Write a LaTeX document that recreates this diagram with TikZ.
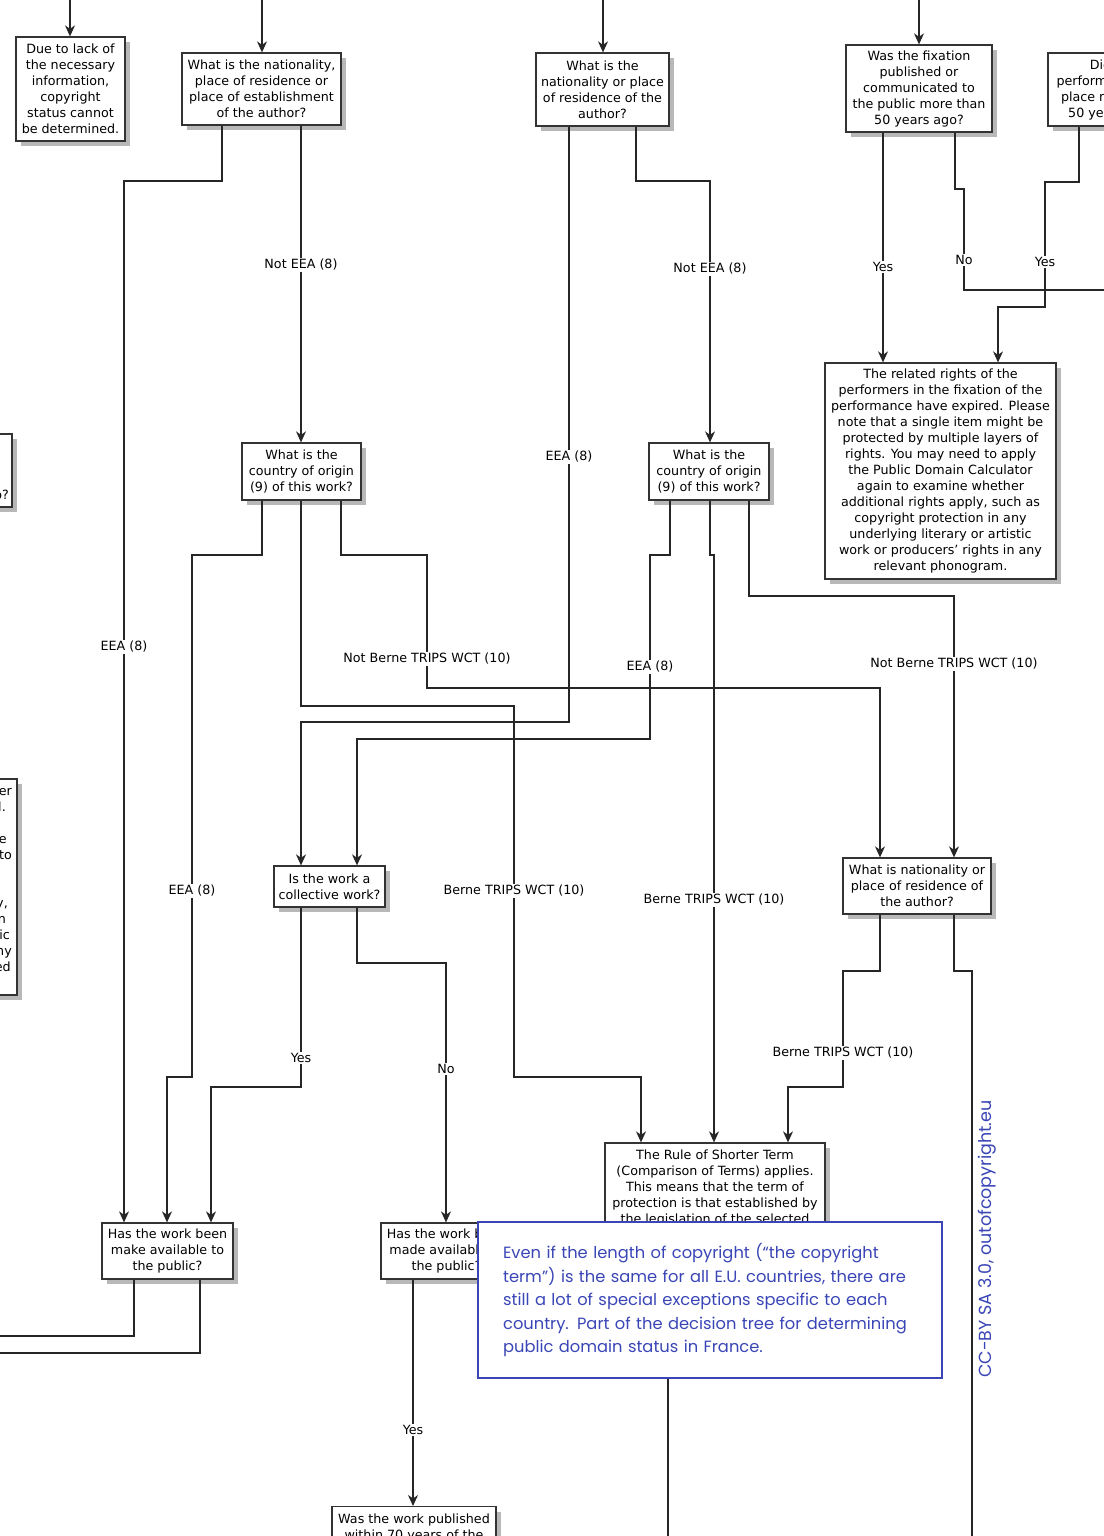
\documentclass[tikz,border=0pt]{standalone}
\usepackage{fontspec}
\setmainfont{DejaVu Sans}
\newfontfamily\notefont{Poppins}
\usetikzlibrary{arrows.meta,shadows}
\definecolor{noteblue}{RGB}{58,70,182}

\begin{document}
\begin{tikzpicture}[x=1pt, y=-1pt,
    question/.style={draw=black!80, fill=white, line width=1.3pt, align=center, inner sep=2pt,
      font=\fontsize{12.7pt}{16pt}\selectfont,
      drop shadow={shadow xshift=5pt, shadow yshift=-5pt, fill=black!28, opacity=1}},
    answer/.style={fill=white, inner sep=1.5pt, font=\fontsize{12.7pt}{16pt}\selectfont},
    flow/.style={-{Stealth[length=11pt,width=10pt,inset=3.5pt]}, line width=1.1pt, draw=black!85},
    wire/.style={line width=1.1pt, draw=black!85},
    frag/.style={anchor=base east, inner sep=0pt, font=\fontsize{12.7pt}{16pt}\selectfont}]
   \fill[white] (0,0) rectangle (1103,1536);
   \useasboundingbox (0,0) rectangle (1103,1536);

   % loose ends at the page edges
   \coordinate (tA) at (70,0);
   \coordinate (tB) at (262,0);
   \coordinate (tC) at (603,0);
   \coordinate (tD) at (919,0);
   \coordinate (rD) at (1110,290);
   \coordinate (bL) at (972,1540);
   \coordinate (bK) at (668,1540);
   \coordinate (lM1) at (-5,1336);
   \coordinate (lM2) at (-5,1353);

   % boxes
   \node[question, minimum width=109pt, minimum height=104pt] (A) at (70.5,89)
      {Due to lack of\\the necessary\\information,\\copyright\\status cannot\\be determined.};
   \node[question, minimum width=159pt, minimum height=72pt] (B) at (261.5,89)
      {What is the nationality,\\place of residence or\\place of establishment\\of the author?};
   \node[question, minimum width=133pt, minimum height=73pt] (C) at (602.5,89.5)
      {What is the\\nationality or place\\of residence of the\\author?};
   \node[question, minimum width=146pt, minimum height=87pt] (D) at (919,88.5)
      {Was the fixation\\published or\\communicated to\\the public more than\\50 years ago?};
   \node[question, minimum width=130pt, minimum height=73pt] (E) at (1113,89.5)
      {Did the\\performance take\\place more than\\50 years ago?};
   \node[question, minimum width=231pt, minimum height=216pt] (F) at (940.5,471)
      {The related rights of the\\performers in the fixation of the\\performance have expired. Please\\note that a single item might be\\protected by multiple layers of\\rights. You may need to apply\\the Public Domain Calculator\\again to examine whether\\additional rights apply, such as\\copyright protection in any\\underlying literary or artistic\\work or producers’ rights in any\\relevant phonogram.};
   \node[question, minimum width=130pt, minimum height=73pt] (G) at (-53,470.5) {};
   \node[question, minimum width=200pt, minimum height=216pt] (H) at (-83,887) {};
   \node[question, minimum width=119pt, minimum height=57pt] (Q) at (301.5,471.5)
      {What is the\\country of origin\\(9) of this work?};
   \node[question, minimum width=120pt, minimum height=57pt] (J) at (709,471.5)
      {What is the\\country of origin\\(9) of this work?};
   \node[question, minimum width=111pt, minimum height=41pt] (I) at (329.5,886.5)
      {Is the work a\\collective work?};
   \node[question, minimum width=148pt, minimum height=56pt] (L) at (917,886)
      {What is nationality or\\place of residence of\\the author?};
   \node[question, minimum width=220pt, minimum height=90pt] (K) at (715,1188)
      {The Rule of Shorter Term\\(Comparison of Terms) applies.\\This means that the term of\\protection is that established by\\the legislation of the selected};
   \node[question, minimum width=131pt, minimum height=56pt] (M) at (167.5,1251)
      {Has the work been\\make available to\\the public?};
   \node[question, minimum width=131pt, minimum height=56pt] (N) at (446.5,1251)
      {Has the work been\\made available to\\the public?};
   \node[question, minimum width=164pt, minimum height=56pt, anchor=north] (O) at (414,1506)
      {Was the work published\\within 70 years of the\\};

   % bits of text of the cut boxes on the left
   \node[frag] (g1) at (9,499) {o?};
   \foreach \t/\x/\y [count=\i] in {er/12/795, l./6/811, e/7/843, to/12/859, {y,}/8/907,
                                    n/6/923, ic/10/939, ny/12/955, ed/11/971}
      \node[frag] (h\i) at (\x,\y) {\t};

   % connectors
   \draw[flow] (tA) -- (A.north -| tA);
   \draw[flow] (tB) -- (B.north -| tB);
   \draw[flow] (tC) -- (C.north -| tC);
   \draw[flow] (tD) -- (D.north -| tD);
   \draw[flow] (B.south -| 222,0) |- (124,181) -- (M.north -| 124,0);
   \draw[flow] (B.south -| 301,0) -- (Q.north -| 301,0);
   \draw[flow] (C.south -| 569,0) |- (301,722) -- (I.north -| 301,0);
   \draw[flow] (C.south -| 636,0) |- (710,181) -- (J.north -| 710,0);
   \draw[flow] (D.south -| 883,0) -- (F.north -| 883,0);
   \draw[wire] (D.south -| 955,0) |- (964,189) |- (rD);
   \draw[flow] (E.south -| 1079,0) |- (1045,182) |- (998,307) -- (F.north -| 998,0);
   \draw[flow] (Q.south -| 262,0) |- (192,555) |- (167,1077) -- (M.north -| 167,0);
   \draw[flow] (Q.south -| 301,0) |- (514,706) |- (641,1077) -- (K.north -| 641,0);
   \draw[flow] (Q.south -| 341,0) |- (427,555) |- (880,688) -- (L.north -| 880,0);
   \draw[flow] (J.south -| 670,0) |- (650,555) |- (357,739) -- (I.north -| 357,0);
   \draw[flow] (J.south -| 710,0) |- (714,555) -- (K.north -| 714,0);
   \draw[flow] (J.south -| 749,0) |- (954,596) -- (L.north -| 954,0);
   \draw[flow] (I.south -| 301,0) |- (211,1087) -- (M.north -| 211,0);
   \draw[flow] (I.south -| 357,0) |- (446,963) -- (N.north -| 446,0);
   \draw[flow] (L.south -| 880,0) |- (843,971) |- (788,1087) -- (K.north -| 788,0);
   \draw[wire] (L.south -| 954,0) |- (972,971) -- (bL);
   \draw[wire] (M.south -| 134,0) |- (lM1);
   \draw[wire] (M.south -| 200,0) |- (lM2);
   \draw[flow] (N.south -| 413,0) -- (O.north -| 413,0);
   \draw[wire] (K.south -| 668,0) -- (bK);

   % answers on the lines
   \node[answer] (a1) at (301,265) {Not EEA (8)};
   \node[answer] (a2) at (124,647) {EEA (8)};
   \node[answer] (a3) at (569,457) {EEA (8)};
   \node[answer] (a4) at (710,269) {Not EEA (8)};
   \node[answer] (a5) at (883,267) {Yes};
   \node[answer] (a6) at (964,260) {No};
   \node[answer] (a7) at (1045,262) {Yes};
   \node[answer] (a8) at (427,659) {Not Berne TRIPS WCT (10)};
   \node[answer] (a9) at (650,667) {EEA (8)};
   \node[answer] (a10) at (954,664) {Not Berne TRIPS WCT (10)};
   \node[answer] (a11) at (192,891) {EEA (8)};
   \node[answer] (a12) at (514,891) {Berne TRIPS WCT (10)};
   \node[answer] (a13) at (714,900) {Berne TRIPS WCT (10)};
   \node[answer] (a14) at (301,1058) {Yes};
   \node[answer] (a15) at (446,1069) {No};
   \node[answer] (a16) at (843,1053) {Berne TRIPS WCT (10)};
   \node[answer] (a17) at (413,1430) {Yes};

   % the blue note on top
   \node[draw=noteblue, line width=2.2pt, fill=white, anchor=north west, text=noteblue,
         text width=414pt, inner xsep=25pt, inner ysep=0pt, minimum height=156pt, align=left,
         font=\notefont\fontsize{16.3pt}{23.4pt}\selectfont] (note) at (477,1221)
      {Even if the length of copyright (“the copyright\\term”) is the same for all E.U. countries, there are\\still a lot of special exceptions specific to each\\country. Part of the decision tree for determining\\public domain status in France.};
   \node[rotate=90, anchor=west, inner sep=0pt, text=noteblue,
         font=\notefont\fontsize{17.5pt}{19pt}\selectfont] (cc) at (987,1378)
      {CC-BY SA 3.0, outofcopyright.eu};
\end{tikzpicture}
\end{document}
